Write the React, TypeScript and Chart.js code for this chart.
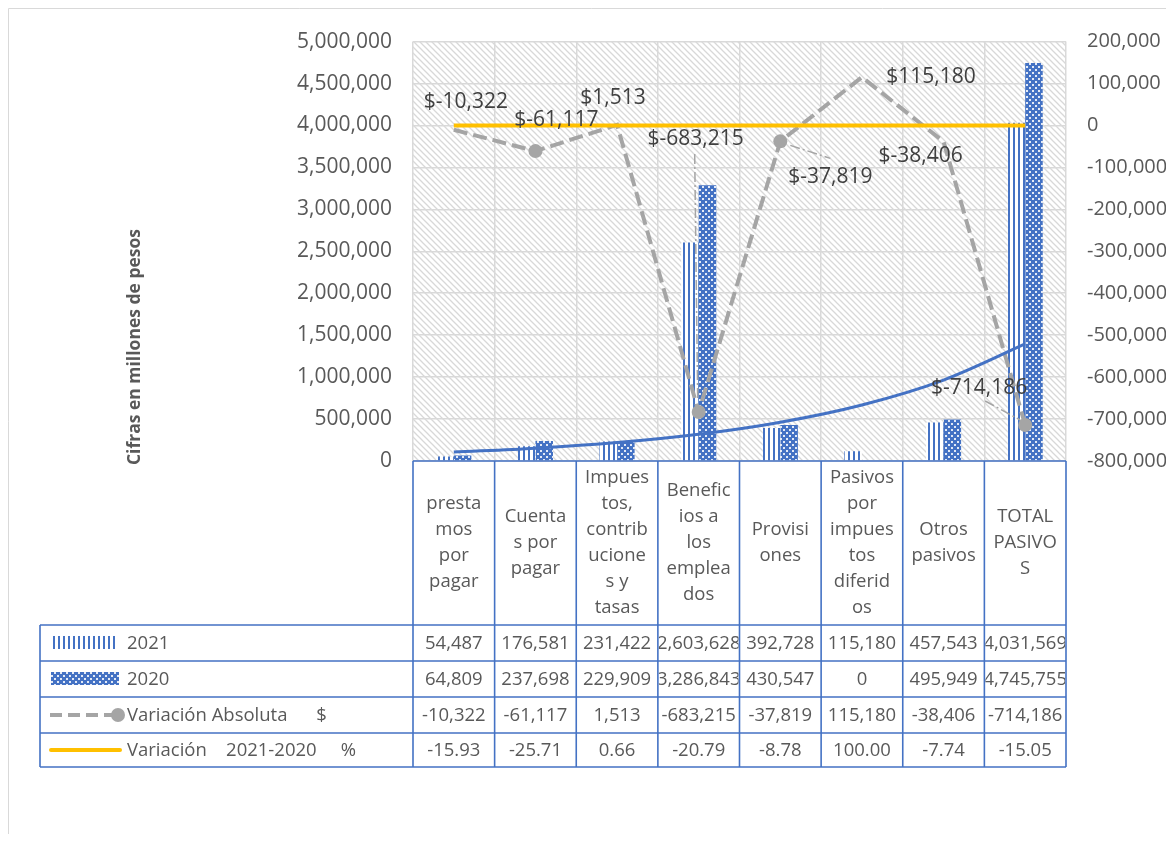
import React, { useEffect, useRef } from 'react';
import { Chart, registerables } from 'chart.js';

Chart.register(...registerables);

// ---------------- DATA ----------------
const categories = [
  'prestamos por pagar',
  'Cuentas por pagar',
  'Impuestos, contribuciones y tasas',
  'Beneficios a los empleados',
  'Provisiones',
  'Pasivos por impuestos diferidos',
  'Otros pasivos',
  'TOTAL PASIVOS',
];
// category labels as wrapped in the data table header
const categoryLines = [
  ['presta', 'mos', 'por', 'pagar'],
  ['Cuenta', 's por', 'pagar'],
  ['Impues', 'tos,', 'contrib', 'ucione', 's y', 'tasas'],
  ['Benefic', 'ios a', 'los', 'emplea', 'dos'],
  ['Provisi', 'ones'],
  ['Pasivos', 'por', 'impues', 'tos', 'diferid', 'os'],
  ['Otros', 'pasivos'],
  ['TOTAL', 'PASIVO', 'S'],
];
const seriesNames = ['2021', '2020', 'Variación Absoluta      $', 'Variación    2021-2020     %'];
const values2021 = [54487, 176581, 231422, 2603628, 392728, 115180, 457543, 4031569];
const values2020 = [64809, 237698, 229909, 3286843, 430547, 0, 495949, 4745755];
const variationAbs = [-10322, -61117, 1513, -683215, -37819, 115180, -38406, -714186];
const variationPct = [-15.93, -25.71, 0.66, -20.79, -8.78, 100.0, -7.74, -15.05];
// exponential trend line of 2021
const trend2021 = [106000, 153000, 221000, 320000, 462000, 668000, 965000, 1395000];
const yTitle = 'Cifras en millones de pesos';

// ---------------- STYLE ----------------
const BLUE = '#4472C4';
const GRAY = '#A5A5A5';
const YELLOW = '#FFC000';
const TEXT = '#595959';
const LABEL = '#404040';
const GRID = '#D9D9D9';
const FONT = '"Open Sans", "DejaVu Sans", sans-serif';
const TABLE_FONT = `18.5px ${FONT}`;
const absMarkerRadius = [0, 7, 0, 7, 7, 0, 0, 7];
// label offsets relative to the point [dx, dy], and optional leader line [x1,y1,x2,y2] relative to point
const labelOffsets: [number, number][] = [
  [12, -28], [21, -31], [-4, -27], [-3, -273], [50, 36], [69, 0], [-23, 14], [-46, -37],
];
const leaders: (null | [number, number, number, number])[] = [
  null, null, null, [-4, -258, -1, -12], [10, 4, 50, 17], null, null, [-40, -24, -5, -5],
];
const ROW_Y = [617, 653, 689, 725, 759];

function makePattern(ctx: CanvasRenderingContext2D, kind: string): CanvasPattern {
  const c = document.createElement('canvas');
  const g = c.getContext('2d') as CanvasRenderingContext2D;
  if (kind === 'stripes') {
    c.width = 5; c.height = 4;
    g.fillStyle = '#ffffff'; g.fillRect(0, 0, 5, 4);
    g.fillStyle = BLUE; g.fillRect(0, 0, 2, 4);
  } else if (kind === 'dots') {
    c.width = 6; c.height = 6;
    g.fillStyle = BLUE; g.fillRect(0, 0, 6, 6);
    g.fillStyle = 'rgba(255,255,255,0.85)';
    g.fillRect(1, 1, 2, 2); g.fillRect(4, 4, 2, 2);
  } else {
    c.width = 6; c.height = 6;
    g.fillStyle = '#ffffff'; g.fillRect(0, 0, 6, 6);
    g.strokeStyle = '#D8D8D8'; g.lineWidth = 1.3;
    g.beginPath();
    g.moveTo(-1, -1); g.lineTo(7, 7);
    g.moveTo(-1, 5); g.lineTo(1, 7);
    g.moveTo(5, -1); g.lineTo(7, 1);
    g.stroke();
  }
  return ctx.createPattern(c, 'repeat') as CanvasPattern;
}

const fmt = (v: number) => v.toLocaleString('en-US');

export default function App() {
  const ref = useRef<HTMLCanvasElement | null>(null);
  useEffect(() => {
    let chart: Chart | null = null;
    let cancelled = false;
    const build = () => {
      if (cancelled || !ref.current) return;
      const ctx = ref.current.getContext('2d') as CanvasRenderingContext2D;
      const stripes = makePattern(ctx, 'stripes');
      const dots = makePattern(ctx, 'dots');
      const hatch = makePattern(ctx, 'hatch');

      const plugin = {
        id: 'excelLook',
        beforeDraw(c: any) {
          const g = c.ctx as CanvasRenderingContext2D;
          const a = c.chartArea;
          g.save();
          g.fillStyle = hatch;
          g.fillRect(a.left, a.top, a.right - a.left, a.bottom - a.top);
          g.strokeStyle = GRID; g.lineWidth = 1;
          g.beginPath();
          g.moveTo(0.5, c.height); g.lineTo(0.5, 0.5); g.lineTo(c.width, 0.5);
          g.stroke();
          g.restore();
        },
        afterDatasetsDraw(c: any) {
          const g = c.ctx as CanvasRenderingContext2D;
          const meta = c.getDatasetMeta(2);
          g.save();
          meta.data.forEach((pt: any, i: number) => {
            const ld = leaders[i];
            if (ld) {
              g.strokeStyle = GRAY; g.lineWidth = 1.5; g.setLineDash([10, 3, 2, 3]);
              g.beginPath();
              g.moveTo(pt.x + ld[0], pt.y + ld[1]);
              g.lineTo(pt.x + ld[2], pt.y + ld[3]);
              g.stroke();
            }
          });
          g.setLineDash([]);
          g.fillStyle = LABEL;
          g.font = `21px ${FONT}`;
          g.textAlign = 'center'; g.textBaseline = 'middle';
          meta.data.forEach((pt: any, i: number) => {
            const [dx, dy] = labelOffsets[i];
            g.fillText('$' + fmt(variationAbs[i]), pt.x + dx, pt.y + dy);
          });
          g.restore();
        },
        afterDraw(c: any) {
          const g = c.ctx as CanvasRenderingContext2D;
          const a = c.chartArea;
          const xs = c.scales.x;
          const n = categories.length;
          const half = (xs.getPixelForValue(1) - xs.getPixelForValue(0)) / 2;
          const bounds: number[] = [];
          for (let i = 0; i < n; i++) bounds.push(xs.getPixelForValue(i) - half);
          bounds.push(xs.getPixelForValue(n - 1) + half);
          const tableLeft = 32;
          g.save();
          // y title
          g.save();
          g.translate(127, 339);
          g.rotate(-Math.PI / 2);
          g.fillStyle = TEXT; g.font = `bold 17.5px ${FONT}`;
          g.textAlign = 'center'; g.textBaseline = 'middle';
          g.fillText(yTitle, 0, 0);
          g.restore();

          // header text
          g.fillStyle = TEXT; g.font = TABLE_FONT;
          g.textAlign = 'center'; g.textBaseline = 'middle';
          const hTop = a.bottom, hBot = ROW_Y[0];
          const hMid = (hTop + hBot) / 2;
          categoryLines.forEach((lines, i) => {
            const cx = xs.getPixelForValue(i);
            const lh = 26;
            const start = hMid - ((lines.length - 1) * lh) / 2;
            lines.forEach((t, k) => g.fillText(t, cx, start + k * lh));
          });
          // data rows
          const rows = [values2021, values2020, variationAbs, variationPct];
          rows.forEach((row, r) => {
            const cy = (ROW_Y[r] + ROW_Y[r + 1]) / 2;
            row.forEach((v, i) => {
              const txt = r === 3 ? v.toFixed(2) : fmt(v);
              g.save();
              g.beginPath();
              g.rect(bounds[i] + 1, ROW_Y[r], bounds[i + 1] - bounds[i] - 2, ROW_Y[r + 1] - ROW_Y[r]);
              g.clip();
              g.fillText(txt, xs.getPixelForValue(i), cy + 1);
              g.restore();
            });
            g.textAlign = 'left';
            g.fillText(seriesNames[r], 119, cy + 1);
            g.textAlign = 'center';
          });
          // legend keys
          g.fillStyle = stripes; g.fillRect(43, 628, 65, 13);
          g.fillStyle = dots; g.fillRect(43, 664, 68, 13);
          let cy = (ROW_Y[2] + ROW_Y[3]) / 2;
          g.strokeStyle = GRAY; g.lineWidth = 4; g.setLineDash([12, 6]);
          g.beginPath(); g.moveTo(42, cy); g.lineTo(104, cy); g.stroke();
          g.setLineDash([]);
          g.fillStyle = GRAY; g.beginPath(); g.arc(110, cy, 7, 0, Math.PI * 2); g.fill();
          cy = (ROW_Y[3] + ROW_Y[4]) / 2;
          g.strokeStyle = YELLOW; g.lineWidth = 4; g.lineCap = 'round';
          g.beginPath(); g.moveTo(43, cy); g.lineTo(112, cy); g.stroke();
          g.lineCap = 'butt';
          // table grid
          g.strokeStyle = BLUE; g.lineWidth = 1.6;
          g.beginPath();
          g.moveTo(bounds[0], hTop); g.lineTo(bounds[n], hTop);
          ROW_Y.forEach((y) => { g.moveTo(tableLeft, y); g.lineTo(bounds[n], y); });
          bounds.forEach((x) => { g.moveTo(x, hTop); g.lineTo(x, ROW_Y[4]); });
          g.moveTo(tableLeft, ROW_Y[0]); g.lineTo(tableLeft, ROW_Y[4]);
          g.stroke();
          g.restore();
        },
      };

      chart = new Chart(ref.current, {
        type: 'bar',
        data: {
          labels: categories,
          datasets: [
            {
              type: 'line', label: 'Exponencial (2021)', data: trend2021, yAxisID: 'y',
              borderColor: BLUE, borderWidth: 3, pointRadius: 0, cubicInterpolationMode: 'monotone',
              fill: false, order: 1,
            } as any,
            {
              type: 'line', label: seriesNames[3], data: variationPct, yAxisID: 'y1',
              borderColor: YELLOW, borderWidth: 4, pointRadius: 0, fill: false, order: 2,
            } as any,
            {
              type: 'line', label: seriesNames[2], data: variationAbs, yAxisID: 'y1',
              borderColor: GRAY, borderWidth: 4, borderDash: [14, 6], pointRadius: absMarkerRadius,
              pointBackgroundColor: GRAY, pointBorderWidth: 0, tension: 0, fill: false, order: 3,
            } as any,
            {
              type: 'bar', label: seriesNames[0], data: values2021, yAxisID: 'y',
              backgroundColor: stripes, borderWidth: 0, categoryPercentage: 0.43, barPercentage: 1.0, order: 10,
            } as any,
            {
              type: 'bar', label: seriesNames[1], data: values2020, yAxisID: 'y',
              backgroundColor: dots, borderWidth: 0, categoryPercentage: 0.43, barPercentage: 1.0, order: 11,
            } as any,
          ],
        },
        options: {
          animation: false,
          responsive: true,
          maintainAspectRatio: false,
          layout: { padding: { left: 285, right: 8, top: 32, bottom: 373 } },
          plugins: { legend: { display: false }, tooltip: { enabled: false } },
          scales: {
            x: {
              type: 'category',
              grid: { color: GRID, lineWidth: 1.5, offset: true, drawTicks: false },
              border: { display: false },
              ticks: { display: false },
            },
            y: {
              position: 'left', min: 0, max: 5000000,
              ticks: { stepSize: 500000, padding: 21, color: TEXT, font: { family: FONT, size: 21 }, callback: (v: any) => fmt(Number(v)) },
              grid: { color: GRID, lineWidth: 1.5, drawTicks: false },
              border: { display: false },
              afterFit: (s: any) => { s.width = 120; },
            },
            y1: {
              position: 'right', min: -800000, max: 200000,
              ticks: { stepSize: 100000, padding: 21, color: TEXT, font: { family: FONT, size: 20 }, callback: (v: any) => fmt(Number(v)) },
              grid: { display: false, drawTicks: false },
              border: { display: false },
              afterFit: (s: any) => { s.width = 100; },
            },
          },
        } as any,
        plugins: [plugin],
      });
    };
    const fontsReady = (document as any).fonts
      ? Promise.all([
          (document as any).fonts.load(`21px "Open Sans"`),
          (document as any).fonts.load(`bold 17px "Open Sans"`),
        ]).catch(() => null)
      : Promise.resolve(null);
    fontsReady.then(build);
    return () => {
      cancelled = true;
      if (chart) chart.destroy();
    };
  }, []);

  return (
    <div style={{ position: 'relative', width: 1166, height: 826 }}>
      <canvas ref={ref} />
    </div>
  );
}
